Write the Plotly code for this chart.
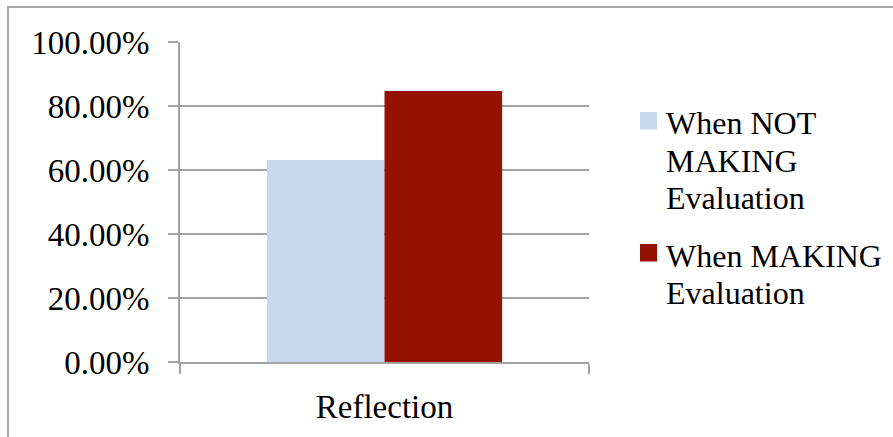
import plotly.graph_objects as go

# Chart data
categories = ["Reflection"]
series_names = ["When NOT<br>MAKING<br>Evaluation", "When MAKING<br>Evaluation"]
series_values = [[0.631], [0.847]]
series_colors = ["#C6D9EE", "#951200"]
y_ticks = [0.0, 0.2, 0.4, 0.6, 0.8, 1.0]

W, H = 893, 437
L, R, T, B = 180, 589, 42, 362  # plot area in pixels
FONT = "Liberation Serif"
GRID = "#A3A3A3"


def px_x(px):
    return (px - L) / (R - L)


def px_y(py):
    return (B - py) / (B - T)


fig = go.Figure()
for name, vals, col in zip(series_names, series_values, series_colors):
    fig.add_trace(go.Bar(x=categories, y=vals, name=name.replace("<br>", " "),
                         marker=dict(color=col, line=dict(width=0)),
                         showlegend=False))

shapes = [
    # outer chart border
    dict(type="rect", xref="paper", yref="paper",
         x0=px_x(8), x1=px_x(905), y0=px_y(450), y1=px_y(7),
         line=dict(color="#A6A6A6", width=2), fillcolor="rgba(0,0,0,0)", layer="below"),
]
annotations = []

# hand-placed legend: swatch plus one text row per line
legend_tops = [112, 244]
line_step = 37.3
for i, (name, col) in enumerate(zip(series_names, series_colors)):
    top = legend_tops[i]
    shapes.append(dict(type="rect", xref="paper", yref="paper",
                       x0=px_x(640), x1=px_x(657), y0=px_y(top + 17.5), y1=px_y(top),
                       line=dict(width=0), fillcolor=col))
    for j, line in enumerate(name.split("<br>")):
        annotations.append(dict(text=line, xref="paper", yref="paper",
                                x=px_x(664), y=px_y(top + 11.5 + j * line_step),
                                xanchor="left", yanchor="middle", showarrow=False,
                                font=dict(family=FONT, size=32, color="black")))

fig.update_layout(
    width=W, height=H,
    margin=dict(l=L, r=W - R, t=T, b=H - B, pad=0),
    paper_bgcolor="white", plot_bgcolor="white",
    barmode="group", bargap=0.425, bargroupgap=0,
    shapes=shapes, annotations=annotations,
    font=dict(family=FONT, size=33, color="black"),
)
fig.update_yaxes(range=[0, 1], tickvals=y_ticks, tickformat=".2%",
                 showgrid=True, gridcolor=GRID, gridwidth=2,
                 showline=True, linecolor=GRID, linewidth=2,
                 ticks="outside", ticklen=10, tickcolor=GRID, tickwidth=2,
                 ticklabelstandoff=12, zeroline=False,
                 tickfont=dict(family=FONT, size=33, color="black"))
fig.update_xaxes(range=[-0.5, 0.5], showline=True, linecolor=GRID, linewidth=2,
                 ticks="outside", tickson="boundaries", ticklen=10,
                 tickcolor=GRID, tickwidth=2, showgrid=False,
                 ticklabelstandoff=14,
                 tickfont=dict(family=FONT, size=33, color="black"))

fig.write_html("out.html")
